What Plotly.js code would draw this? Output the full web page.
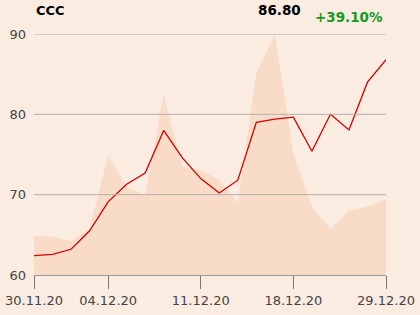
<!DOCTYPE html>
<html>
<head>
<meta charset="utf-8">
<script src="https://cdn.plot.ly/plotly-3.0.1.min.js"></script>
<style>html,body{margin:0;padding:0;background:#fbece1;}#chart{width:420px;height:315px;}</style>
</head>
<body>
<div id="chart"></div>
<script>
const dates = ["30.11.20","01.12.20","02.12.20","03.12.20","04.12.20","07.12.20","08.12.20","09.12.20","10.12.20","11.12.20","14.12.20","15.12.20","16.12.20","17.12.20","18.12.20","21.12.20","22.12.20","23.12.20","28.12.20","29.12.20"];
const price = [62.40,62.57,63.2,65.5,69.1,71.3,72.7,78.0,74.6,72.0,70.2,71.8,79.0,79.4,79.65,75.4,80.0,78.05,84.0,86.80];
const shade = [64.85,64.8,64.2,65.8,74.9,71.0,69.96,82.5,73.5,73.1,71.8,69.0,85.1,89.9,75.15,68.5,65.7,68.0,68.5,69.45];
const tickDates = ["30.11.20","04.12.20","11.12.20","18.12.20","29.12.20"];
const yTicks = [60,70,80,90];
const gridVals = [70,80,90];
const name = "CCC";

const last = price[price.length-1];
const change = (last/price[0]-1)*100;

const traces = [
  {x: dates, y: shade, type: 'scatter', mode: 'lines', fill: 'tozeroy',
   fillcolor: '#f8dcc7', line: {width: 0, color: '#f8dcc7'}, hoverinfo: 'skip'},
  {x: dates, y: price, type: 'scatter', mode: 'lines',
   line: {color: '#d40000', width: 1.3}}
];

const shapes = gridVals.map(v => ({type: 'line', xref: 'paper', yref: 'y', x0: 0, x1: 1, y0: v, y1: v,
  layer: 'above', line: {color: '#b3b0ad', width: 1}}));

const layout = {
  width: 420, height: 315,
  margin: {l: 34, r: 34, t: 34, b: 40},
  paper_bgcolor: '#fbece1', plot_bgcolor: '#fbece1',
  showlegend: false,
  font: {family: 'DejaVu Sans', size: 13, color: '#444'},
  shapes: shapes,
  xaxis: {type: 'category', range: [0, dates.length-1], tickmode: 'array',
    tickvals: tickDates, ticktext: tickDates, showgrid: false, zeroline: false,
    showline: true, linecolor: '#999', linewidth: 1, layer: 'above traces',
    ticks: 'outside', ticklen: 13, tickcolor: '#777', tickwidth: 1,
    tickfont: {family: 'DejaVu Sans', size: 13, color: '#444'}, fixedrange: true},
  yaxis: {range: [60, 90], tickmode: 'array', tickvals: yTicks,
    showgrid: false, zeroline: false,
    showline: false, ticks: '', ticklen: 0, ticklabelstandoff: 7,
    tickfont: {family: 'DejaVu Sans', size: 13, color: '#444'}, fixedrange: true},
  annotations: [
    {xref: 'paper', yref: 'paper', x: 0, y: (275-11)/241, xanchor: 'left', yanchor: 'middle',
     text: '<b>' + name + '</b>', showarrow: false, font: {family: 'DejaVu Sans', size: 13, color: '#000'}},
    {xref: 'paper', yref: 'paper', x: (303-34)/352, y: (275-10)/241, xanchor: 'right', yanchor: 'middle',
     text: '<b>' + last.toFixed(2) + '</b>', showarrow: false, font: {family: 'DejaVu Sans', size: 13.5, color: '#000'}},
    {xref: 'paper', yref: 'paper', x: (385-34)/352, y: (275-17)/241, xanchor: 'right', yanchor: 'middle',
     text: '<b>' + (change >= 0 ? '+' : '') + change.toFixed(2) + '%</b>', showarrow: false,
     font: {family: 'DejaVu Sans', size: 13.5, color: '#1a9a1a'}}
  ]
};

Plotly.newPlot('chart', traces, layout, {displayModeBar: false, staticPlot: true});
</script>
</body>
</html>
